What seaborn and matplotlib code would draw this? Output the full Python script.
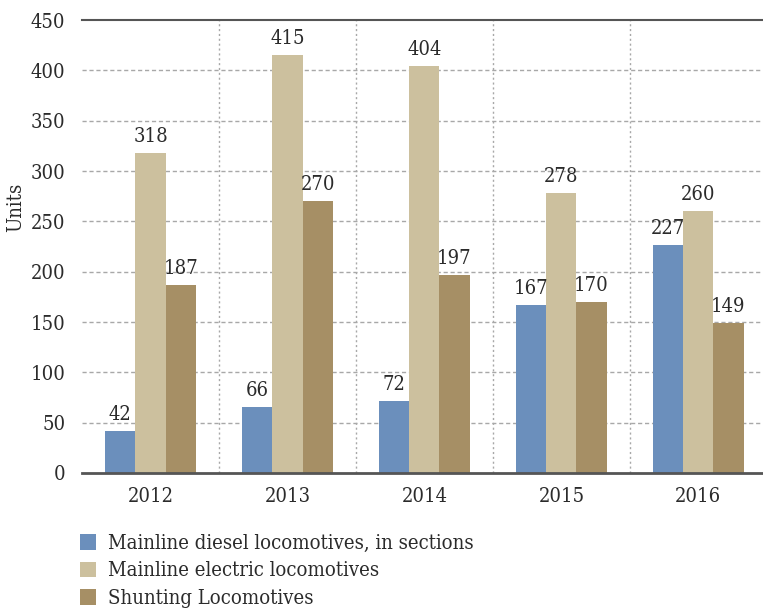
import matplotlib
matplotlib.use("Agg")
import matplotlib.pyplot as plt
import seaborn as sns
import pandas as pd

years = ["2012", "2013", "2014", "2015", "2016"]
series_names = [
    "Mainline diesel locomotives, in sections",
    "Mainline electric locomotives",
    "Shunting Locomotives",
]
diesel = [42, 66, 72, 167, 227]
electric = [318, 415, 404, 278, 260]
shunting = [187, 270, 197, 170, 149]
y_ticks = [0, 50, 100, 150, 200, 250, 300, 350, 400, 450]

palette = ["#6B8FBC", "#CCC09E", "#A68F65"]

df = pd.DataFrame({
    "year": years * 3,
    "series": sum([[s] * len(years) for s in series_names], []),
    "value": diesel + electric + shunting,
})

sns.set_theme(style="white")
plt.rcParams["font.family"] = ["DejaVu Serif"]
plt.rcParams["font.stretch"] = "condensed"
text_color = "#2b2b2b"
fs = 14.5

fig = plt.figure(figsize=(7.63, 6.10), dpi=100)
ax = fig.add_axes([0.1075, 0.2246, 0.8975, 0.7424])

sns.barplot(data=df, x="year", y="value", hue="series", order=years,
            hue_order=series_names, palette=palette, width=0.66,
            saturation=1, linewidth=0, ax=ax, legend=True)

for cont in ax.containers:
    ax.bar_label(cont, fmt="%d", padding=5, fontsize=fs, color=text_color)

ax.set_xlim(-0.5, 4.5)
ax.set_ylim(0, 450)
ax.set_yticks(y_ticks)
ax.tick_params(axis="both", length=0, labelsize=fs, colors=text_color)
ax.tick_params(axis="y", pad=12)
ax.tick_params(axis="x", pad=10)
ax.set_xlabel("")
ax.set_ylabel("Units", fontsize=fs, color=text_color)
ax.yaxis.set_label_coords(-0.083, 0.587)

# dashed horizontal grid
for yv in y_ticks[1:-1]:
    ax.axhline(yv, color="#a8a8a8", lw=1.0, ls=(0, (3, 2)), zorder=0)
# dotted separators between years
for xv in [0.5, 1.5, 2.5, 3.5]:
    ax.axvline(xv, color="#a8a8a8", lw=1.0, ls=(0, (1.5, 2)), zorder=0)

for side in ["left", "right"]:
    ax.spines[side].set_visible(False)
ax.spines["top"].set_color("#555555")
ax.spines["top"].set_linewidth(1.5)
ax.spines["bottom"].set_color("#555555")
ax.spines["bottom"].set_linewidth(2)

handles, labels = ax.get_legend_handles_labels()
ax.get_legend().remove()
fig.legend(handles, labels, loc="upper left", bbox_to_anchor=(0.094, 0.138),
           frameon=False, fontsize=14.6, handlelength=0.8, handleheight=0.8,
           handletextpad=0.6, labelspacing=0.42, labelcolor=text_color,
           borderaxespad=0)

fig.savefig("out.png", dpi=100)
